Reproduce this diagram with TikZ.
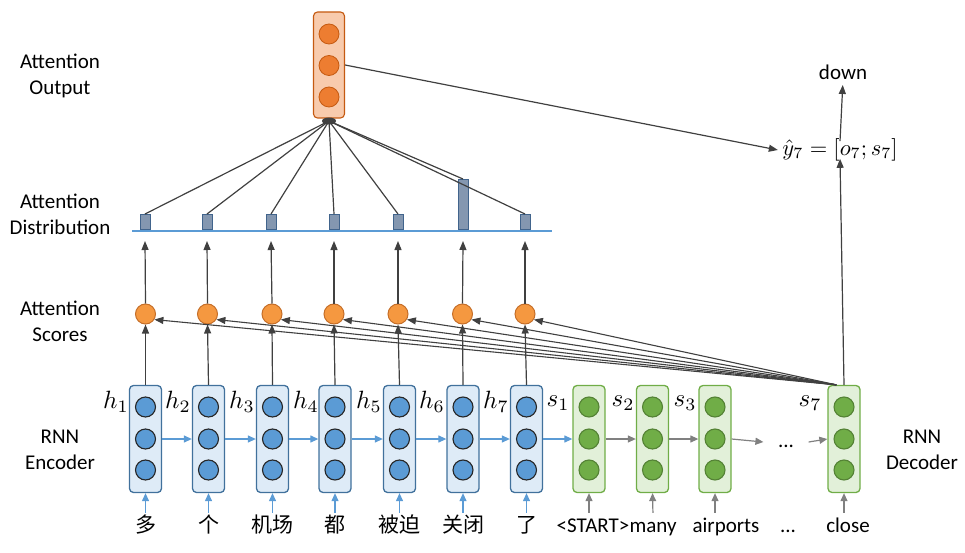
\documentclass[tikz,border=0pt]{standalone}
\usepackage{graphicx}
\usepackage{fontspec}
\setmainfont{Carlito}
\newfontfamily\cjk{Noto Sans CJK SC}
\usetikzlibrary{arrows.meta}

\definecolor{encfill}{RGB}{222,235,247}
\definecolor{encdraw}{RGB}{65,113,156}
\definecolor{enccirc}{RGB}{91,155,213}
\definecolor{decfill}{RGB}{226,240,217}
\definecolor{decdraw}{RGB}{112,173,71}
\definecolor{deccirc}{RGB}{112,173,71}
\definecolor{deccircd}{RGB}{84,130,53}
\definecolor{scorefill}{RGB}{245,152,64}
\definecolor{scoredraw}{RGB}{197,110,40}
\definecolor{outfill}{RGB}{248,203,173}
\definecolor{outdraw}{RGB}{197,90,17}
\definecolor{outcirc}{RGB}{237,125,49}
\definecolor{barfill}{RGB}{132,151,176}
\definecolor{bardraw}{RGB}{65,100,140}
\definecolor{linegray}{RGB}{64,64,64}
\definecolor{inputgray}{RGB}{128,128,128}

% big math labels
\newcommand{\mlab}[1]{\scalebox{2.5}{$#1$}}

\tikzset{every picture/.style={line width=1.2pt}}
\tikzset{
  encbox/.style={draw=encdraw, fill=encfill, rounded corners=4pt, minimum width=32pt, minimum height=107pt, line width=1.3pt, inner sep=0pt},
  decbox/.style={draw=decdraw, fill=decfill, rounded corners=4pt, minimum width=32pt, minimum height=107pt, line width=1.3pt, inner sep=0pt},
  outbox/.style={draw=outdraw, fill=outfill, rounded corners=4pt, minimum width=31pt, minimum height=106pt, line width=1.1pt, inner sep=0pt},
  encdot/.style={circle, draw=black!85, fill=enccirc, minimum size=20pt, inner sep=0pt, line width=1.1pt},
  decdot/.style={circle, draw=deccircd, fill=deccirc, minimum size=20pt, inner sep=0pt, line width=1.1pt},
  outdot/.style={circle, draw=outdraw, fill=outcirc, minimum size=20pt, inner sep=0pt, line width=0.8pt},
  scoredot/.style={circle, draw=scoredraw, fill=scorefill, minimum size=20pt, inner sep=0pt, line width=1pt},
  distbar/.style={draw=bardraw, fill=barfill, minimum width=10pt, inner sep=0pt, anchor=south, line width=1pt},
  lbl/.style={align=center, font=\fontsize{21}{26}\selectfont, inner sep=0pt},
  mlbl/.style={inner sep=0pt},
  word/.style={font=\fontsize{21}{26}\selectfont, text height=15pt, text depth=4pt, inner sep=1pt},
  arr/.style={draw=linegray, -{Triangle[length=9pt,width=7pt]}},
  conn/.style={draw=linegray},
  harr/.style={draw=enccirc, -{Triangle[length=8pt,width=7pt]}},
  garr/.style={draw=inputgray, -{Triangle[length=8pt,width=7pt]}},
}

\begin{document}
\begin{tikzpicture}[x=1pt,y=1pt,yscale=-1]
	\useasboundingbox (0,0) rectangle (965,553);

	% Side labels
	\node[lbl] (lout) at (60,76) {Attention\\Output};
	\node[lbl] (ldist) at (60,214) {Attention\\Distribution};
	\node[lbl] (lscore) at (60,321) {Attention\\Scores};
	\node[lbl] (lenc) at (60,450) {RNN\\Encoder};
	\node[lbl] (ldec) at (922,450) {RNN\\Decoder};

	% Encoder boxes
	\node[encbox] (e1) at (145.5,439) {};
	\node[encbox] (e2) at (208.5,439) {};
	\node[encbox] (e3) at (272.5,439) {};
	\node[encbox] (e4) at (335,439) {};
	\node[encbox] (e5) at (399.5,439) {};
	\node[encbox] (e6) at (463,439) {};
	\node[encbox] (e7) at (526.5,439) {};
	% Decoder boxes
	\node[decbox] (d1) at (589,439) {};
	\node[decbox] (d2) at (652.5,439) {};
	\node[decbox] (d3) at (715,439) {};
	\node[decbox] (d7) at (844,439) {};

	% units inside the boxes
	\foreach \b in {e1,e2,e3,e4,e5,e6,e7}
	  \foreach \dy in {-32,0,31}
	    \node[encdot] at ([yshift=\dy pt]\b.center) {};
	\foreach \b in {d1,d2,d3,d7}
	  \foreach \dy in {-32,0,31}
	    \node[decdot] at ([yshift=\dy pt]\b.center) {};

	% Hidden state labels
	\node[mlbl] (h1) at (116,402) {\mlab{h_1}};
	\node[mlbl] (h2) at (178,402) {\mlab{h_2}};
	\node[mlbl] (h3) at (242,402) {\mlab{h_3}};
	\node[mlbl] (h4) at (306,402) {\mlab{h_4}};
	\node[mlbl] (h5) at (369,402) {\mlab{h_5}};
	\node[mlbl] (h6) at (432,402) {\mlab{h_6}};
	\node[mlbl] (h7) at (496,402) {\mlab{h_7}};
	\node[mlbl] (s1) at (558,403) {\mlab{s_1}};
	\node[mlbl] (s2) at (623,403) {\mlab{s_2}};
	\node[mlbl] (s3) at (685,403) {\mlab{s_3}};
	\node[mlbl] (s7) at (810,403) {\mlab{s_7}};

	% Input words
	\node[word] (w1) at (145.5,527) {\cjk 多};
	\node[word] (w2) at (208.5,527) {\cjk 个};
	\node[word] (w3) at (272.5,527) {\cjk 机场};
	\node[word] (w4) at (335,527) {\cjk 都};
	\node[word] (w5) at (399.5,527) {\cjk 被迫};
	\node[word] (w6) at (463,527) {\cjk 关闭};
	\node[word] (w7) at (526.5,527) {\cjk 了};
	\node[word] (wd1) at (593,527) {<START>};
	\node[word] (wd2) at (653,527) {many};
	\node[word] (wd3) at (726,527) {airports};
	\node[word] (wdots) at (788,527) {...};
	\node[word] (wd7) at (848,527) {close};
	\node[word, minimum width=44pt, inner sep=0pt] (dots) at (786,442) {...};

	% input arrows
	\foreach \w/\b in {w1/e1,w2/e2,w3/e3,w4/e4,w5/e5,w6/e6,w7/e7}
	  \draw[harr, shorten <=3pt] (\w.north) -- (\b.south);
	\draw[garr, shorten <=3pt] ([xshift=-4pt]wd1.north) -- (d1.south);
	\draw[garr, shorten <=3pt] (wd2.north) -- (d2.south);
	\draw[garr, shorten <=3pt] ([xshift=-11pt]wd3.north) -- (d3.south);
	\draw[garr, shorten <=3pt] ([xshift=-4pt]wd7.north) -- (d7.south);

	% recurrent arrows
	\draw[harr] (e1.east) -- (e2.west);
	\draw[harr] (e2.east) -- (e3.west);
	\draw[harr] (e3.east) -- (e4.west);
	\draw[harr] (e4.east) -- (e5.west);
	\draw[harr] (e5.east) -- (e6.west);
	\draw[harr] (e6.east) -- (e7.west);
	\draw[harr] (e7.east) -- (d1.west);
	\draw[garr] (d1.east) -- (d2.west);
	\draw[garr] (d2.east) -- (d3.west);
	\draw[garr] (d3.east) -- (dots.west);
	\draw[garr] (dots.east) -- (d7.west);

	% Attention scores
	\node[scoredot] (sc1) at (145.5,314) {};
	\node[scoredot] (sc2) at (207.5,314) {};
	\node[scoredot] (sc3) at (272,314) {};
	\node[scoredot] (sc4) at (334,314) {};
	\node[scoredot] (sc5) at (398,314) {};
	\node[scoredot] (sc6) at (462.5,314) {};
	\node[scoredot] (sc7) at (525,314) {};

	% Attention distribution
	\draw[draw=enccirc, line width=1.3pt] (132,231) coordinate (dl) -- (552,231) coordinate (dr);
	\node[distbar, minimum height=15pt] (b1) at (145,230) {};
	\node[distbar, minimum height=15pt] (b2) at (207,230) {};
	\node[distbar, minimum height=15pt] (b3) at (271,230) {};
	\node[distbar, minimum height=15pt] (b4) at (334,230) {};
	\node[distbar, minimum height=15pt] (b5) at (398,230) {};
	\node[distbar, minimum height=50pt] (b6) at (463,230) {};
	\node[distbar, minimum height=15pt] (b7) at (525,230) {};

	% Attention output
	\node[outbox] (ao) at (329,65) {};
	\node[outdot] (ao1) at (329,34) {};
	\node[outdot] (ao2) at (329,65.5) {};
	\node[outdot] (ao3) at (329,97) {};
	\coordinate (aoin) at (329,121);

	% Output and prediction
	\node[mlbl, scale=0.9] (yhat) at (840,150) {\mlab{\hat{y}_7=[o_7;s_7]}};
	\node[lbl] (down) at (843,72) {down};

	% encoder to scores, scores to distribution
	\foreach \i in {1,...,7}{
	  \draw[arr] (e\i.north) -- (sc\i.south);
	  \draw[arr] (sc\i.north) -- ([yshift=11pt]b\i.south);
	  \draw[conn] (b\i.north) -- (aoin);
	}
	\fill[linegray] (aoin) ellipse (7pt and 3.5pt);

	% decoder state to scores
	\coordinate (dtop) at ([xshift=9pt]d7.north west);
	\foreach \i in {1,...,7}
	  \draw[arr, line width=1.1pt] (dtop) -- (sc\i.-32);

	\draw[arr] (ao.east) -- ([xshift=-4pt]yhat.west);
	\draw[arr] (d7.north) -- ([yshift=-3pt]yhat.south);
	\draw[arr, shorten >=5pt] ([yshift=3pt]yhat.north) -- (down.south);

\end{tikzpicture}
\end{document}
